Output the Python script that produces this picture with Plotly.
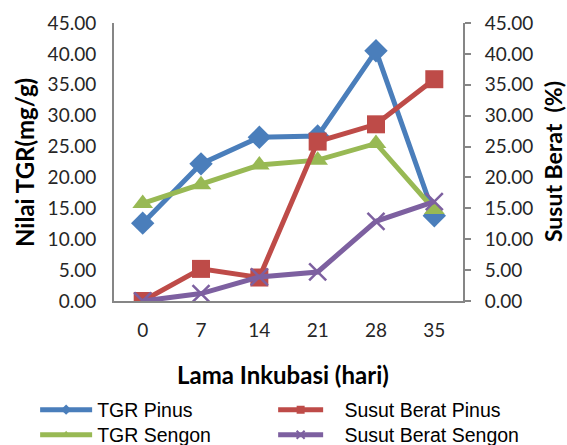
import plotly.graph_objects as go

days = ["0", "7", "14", "21", "28", "35"]
tgr_pinus = [12.6, 22.2, 26.5, 26.7, 40.5, 13.8]
tgr_sengon = [15.8, 18.8, 22.0, 22.8, 25.5, 14.8]
susut_pinus = [0.0, 5.2, 3.8, 25.8, 28.6, 35.9]
susut_sengon = [0.0, 1.2, 3.9, 4.7, 12.9, 16.1]
yticks = [0, 5, 10, 15, 20, 25, 30, 35, 40, 45]
yticklabels = [f"{v:.2f}" for v in yticks]

BLUE = "#4A7EBB"
RED = "#BE4B48"
GREEN = "#98B954"
PURPLE = "#7D60A0"
AXIS = "#868686"
TICKFONT = dict(family="Lato", size=19, color="#262626")
LEGFONT = dict(family="Liberation Sans", size=19.5, color="#000000")
NB = "\u00a0"

series = [
    ("TGR Pinus", tgr_pinus, BLUE, "diamond", 18, "y", "legend", ""),
    ("TGR Sengon", tgr_sengon, GREEN, "triangle-up", 18, "y", "legend2", ""),
    ("Susut Berat Pinus", susut_pinus, RED, "square", 18, "y2", "legend3", NB * 3),
    ("Susut Berat Sengon", susut_sengon, PURPLE, "x-thin", 17, "y2", "legend4", NB * 3),
]

fig = go.Figure()
for name, vals, col, sym, sz, yax, leg, pad in series:
    mk = dict(symbol=sym, size=sz, color=col)
    if sym == "x-thin":
        mk["line"] = dict(color=col, width=2.5)
    fig.add_trace(go.Scatter(x=days, y=vals, name=name, mode="lines+markers",
                             line=dict(color=col, width=5), marker=mk,
                             yaxis=yax, showlegend=False))
    lmk = dict(symbol=sym, size=8, color=col)
    if sym == "x-thin":
        lmk["line"] = dict(color=col, width=2)
    fig.add_trace(go.Scatter(x=[None], y=[None], name=pad + name, mode="lines+markers",
                             line=dict(color=col, width=5), marker=lmk,
                             yaxis=yax, legend=leg, showlegend=True))

def leg(x, y, w):
    return dict(x=x, y=y, xanchor="left", yanchor="middle", font=LEGFONT,
                itemwidth=w, tracegroupgap=0, bgcolor="rgba(0,0,0,0)")

fig.update_layout(
    width=567, height=445,
    margin=dict(l=114, r=104, t=23, b=144, autoexpand=False),
    paper_bgcolor="white", plot_bgcolor="white",
    showlegend=True,
    xaxis=dict(type="category", showline=True, linecolor=AXIS, linewidth=2,
               showgrid=False, ticks="", tickfont=TICKFONT, zeroline=False,
               ticklabelstandoff=11),
    yaxis=dict(range=[0, 45], tickvals=yticks, ticktext=yticklabels,
               showline=True, linecolor=AXIS, linewidth=2, showgrid=False,
               ticks="", tickfont=TICKFONT, zeroline=False, ticklabelstandoff=12),
    yaxis2=dict(range=[0, 45], tickvals=yticks, ticktext=yticklabels,
                overlaying="y", side="right",
                showline=True, linecolor=AXIS, linewidth=2, showgrid=False,
                ticks="outside", ticklen=6, tickwidth=2, tickcolor=AXIS,
                tickfont=TICKFONT, zeroline=False, ticklabelstandoff=10),
    legend=leg(-0.226, -0.392, 52),
    legend2=leg(-0.226, -0.482, 52),
    legend3=leg(0.456, -0.392, 45),
    legend4=leg(0.456, -0.482, 45),
    annotations=[
        dict(text="<b>Nilai TGR(mg/g)</b>", xref="paper", yref="paper",
             x=-0.258, y=0.5, xanchor="center", yanchor="middle", textangle=-90,
             showarrow=False, font=dict(family="Lato", size=24, color="#000000")),
        dict(text="<b>Susut Berat" + NB + " (%)</b>", xref="paper", yref="paper",
             x=1.258, y=0.5, xanchor="center", yanchor="middle", textangle=-90,
             showarrow=False, font=dict(family="Lato", size=23, color="#000000")),
        dict(text="<b>Lama Inkubasi (hari)</b>", xref="paper", yref="paper",
             x=0.485, y=-0.263, xanchor="center", yanchor="middle",
             showarrow=False, font=dict(family="Lato", size=24, color="#000000")),
    ],
)

fig.write_html("out.html")
